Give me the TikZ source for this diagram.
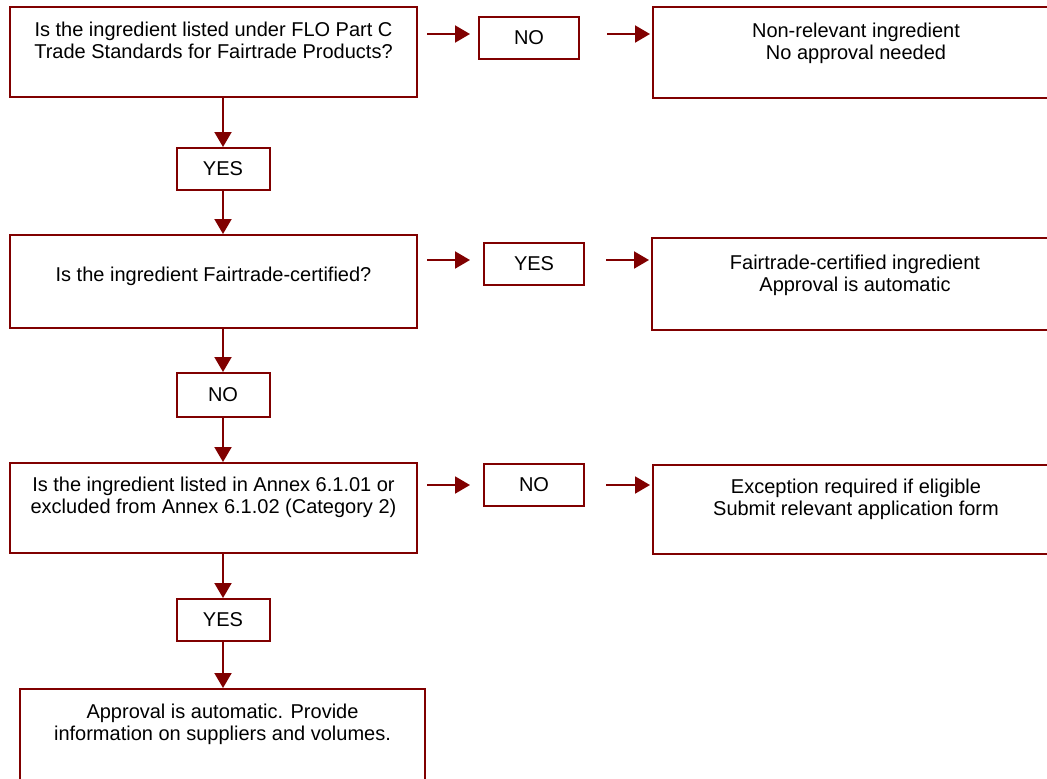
\documentclass[tikz,border=0pt]{standalone}
\usepackage{fontspec}
\setmainfont{Liberation Sans}
\usepackage{xcolor}
\usepackage{tikz}
\usetikzlibrary{arrows.meta, positioning, calc}

\definecolor{frame}{RGB}{128,0,0}

\begin{document}
\begin{tikzpicture}[
        x=0.5pt, y=-0.5pt,
        font=\fontsize{10}{11}\selectfont,
        qbox/.style={rectangle, draw=frame, line width=1pt, anchor=north west, inner sep=0pt, align=center},
        answer/.style={rectangle, draw=frame, line width=1pt, anchor=north west, inner sep=0pt, minimum width=50pt, minimum height=21pt},
        link/.style={-{Triangle[length=7.5pt, width=8.5pt]}, line width=1pt, draw=frame},
        side/.style={link, shorten <=4.5pt, shorten >=#1},
        side2/.style={link, shorten <=#1, shorten >=1pt}
    ]

    \clip (0,0) rectangle (1047,778);

    % Nodes
    \node[qbox, minimum width=203.5pt, text height=25.5pt, text depth=19.5pt] (q1) at (9,6)
        {Is the ingredient listed under FLO Part C\\Trade Standards for Fairtrade Products?};
    \node[answer] (no1) at (478,16) {NO};
    \node[qbox, minimum width=203pt, text height=26pt, text depth=19.5pt] (r1) at (652,6)
        {Non-relevant ingredient\\No approval needed};

    \node[answer, minimum width=46.5pt] (yes1) at (175.5,147) {YES};

    \node[qbox, minimum width=203.5pt, text height=23pt, text depth=23.5pt] (q2) at (9,234)
        {Is the ingredient Fairtrade-certified?};
    \node[answer] (yes2) at (483,242) {YES};
    \node[qbox, minimum width=203pt, text height=26.5pt, text depth=19.5pt] (r2) at (651,237)
        {Fairtrade-certified ingredient\\Approval is automatic};

    \node[answer, minimum width=46.5pt, minimum height=22pt] (no2) at (175.5,372) {NO};

    \node[qbox, minimum width=203.5pt, text height=25pt, text depth=20pt] (q3) at (9,462)
        {Is the ingredient listed in Annex 6.1.01 or\\excluded from Annex 6.1.02 (Category 2)};
    \node[answer] (no3) at (483,463) {NO};
    \node[qbox, minimum width=203pt, text height=25pt, text depth=19.5pt] (r3) at (652,464)
        {Exception required if eligible\\Submit relevant application form};

    \node[answer, minimum width=46.5pt] (yes3) at (175.5,598) {YES};

    \node[qbox, minimum width=202.5pt, text height=25.5pt, text depth=25.5pt] (done) at (19,688)
        {Approval is automatic. Provide\\information on suppliers and volumes.};

    % Links
    \draw[side=4pt] ([yshift=2pt]q1.east |- no1.west) -- ([yshift=2pt]no1.west);
    \draw[side2=13.5pt] ([yshift=2pt]no1.east) -- ([yshift=2pt]r1.west |- no1.east);
    \draw[side=6.5pt] ([yshift=2pt]q2.east |- yes2.west) -- ([yshift=2pt]yes2.west);
    \draw[side2=10.5pt] ([yshift=2pt]yes2.east) -- ([yshift=2pt]r2.west |- yes2.east);
    \draw[side=6.5pt] (q3.east |- no3.west) -- (no3.west);
    \draw[side2=10.5pt] (no3.east) -- (r3.west |- no3.east);

    \draw[link] (q1.south -| yes1) -- (yes1.north);
    \draw[link] (yes1.south) -- (yes1 |- q2.north);
    \draw[link] (q2.south -| no2) -- (no2.north);
    \draw[link] (no2.south) -- (no2 |- q3.north);
    \draw[link] (q3.south -| yes3) -- (yes3.north);
    \draw[link] (yes3.south) -- (yes3 |- done.north);

\end{tikzpicture}
\end{document}
